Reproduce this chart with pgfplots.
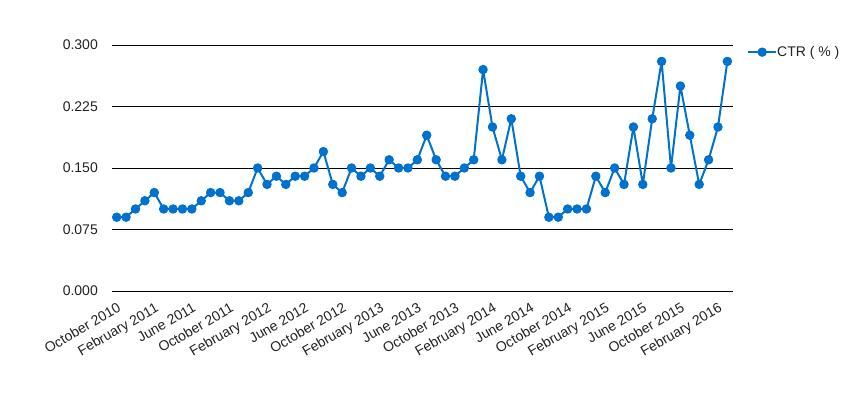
\documentclass[border=0pt]{standalone}
\usepackage{fontspec}
\setmainfont{Liberation Sans}
\usepackage{pgfplots}
\pgfplotsset{compat=1.18}
\definecolor{ctr}{RGB}{0,114,206}
\definecolor{lbl}{RGB}{34,34,34}
\pgfplotstableread{
i v
0 0.09
1 0.09
2 0.10
3 0.11
4 0.12
5 0.10
6 0.10
7 0.10
8 0.10
9 0.11
10 0.12
11 0.12
12 0.11
13 0.11
14 0.12
15 0.15
16 0.13
17 0.14
18 0.13
19 0.14
20 0.14
21 0.15
22 0.17
23 0.13
24 0.12
25 0.15
26 0.14
27 0.15
28 0.14
29 0.16
30 0.15
31 0.15
32 0.16
33 0.19
34 0.16
35 0.14
36 0.14
37 0.15
38 0.16
39 0.27
40 0.20
41 0.16
42 0.21
43 0.14
44 0.12
45 0.14
46 0.09
47 0.09
48 0.10
49 0.10
50 0.10
51 0.14
52 0.12
53 0.15
54 0.13
55 0.20
56 0.13
57 0.21
58 0.28
59 0.15
60 0.25
61 0.19
62 0.13
63 0.16
64 0.20
65 0.28
}\ctrdata
\begin{document}
\fontsize{14bp}{16bp}\selectfont
\begin{tikzpicture}
\path[use as bounding box] (0,0) rectangle (864bp,408bp);
\begin{axis}[
  at={(112bp,117bp)}, anchor=south west,
  scale only axis, width=621bp, height=246bp,
  xmin=-0.5, xmax=65.6, ymin=0, ymax=0.3,
  axis line style={draw=none},
  clip=false,
  ytick={0,0.075,0.15,0.225,0.3},
  yticklabels={0.000,0.075,0.150,0.225,0.300},
  ymajorgrids, grid style={black, line width=0.8bp},
  major tick length=0pt,
  xtick={0,4,...,64},
  xticklabels={October 2010,February 2011,June 2011,October 2011,February 2012,June 2012,October 2012,February 2013,June 2013,October 2013,February 2014,June 2014,October 2014,February 2015,June 2015,October 2015,February 2016},
  tick label style={font=\fontsize{14bp}{16bp}\selectfont, text=lbl},
  yticklabel style={anchor=east, inner sep=0pt, xshift=-14bp},
  xticklabel style={yshift=-11bp, xshift=0bp, rotate=30, anchor=north east, inner sep=0pt},
  legend style={at={(1.0225,0.971)}, anchor=west, draw=none, fill=none, inner sep=0pt,
    font=\fontsize{14bp}{16bp}\selectfont, text=lbl,
    nodes={inner sep=0pt}, /tikz/every even column/.append style={column sep=6bp}},
  legend image code/.code={%
    \draw[line width=2bp] (0bp,0bp) -- (28bp,0bp);
    \fill (14bp,0bp) circle (3.7bp);},
]
\addplot[color=ctr, line width=2bp, line join=round, mark=*, mark size=3.7bp, mark options={fill=ctr, draw=ctr}] table[x=i, y=v] {\ctrdata};
\addlegendentry{CTR ( \% )}
\end{axis}
\end{tikzpicture}
\end{document}
